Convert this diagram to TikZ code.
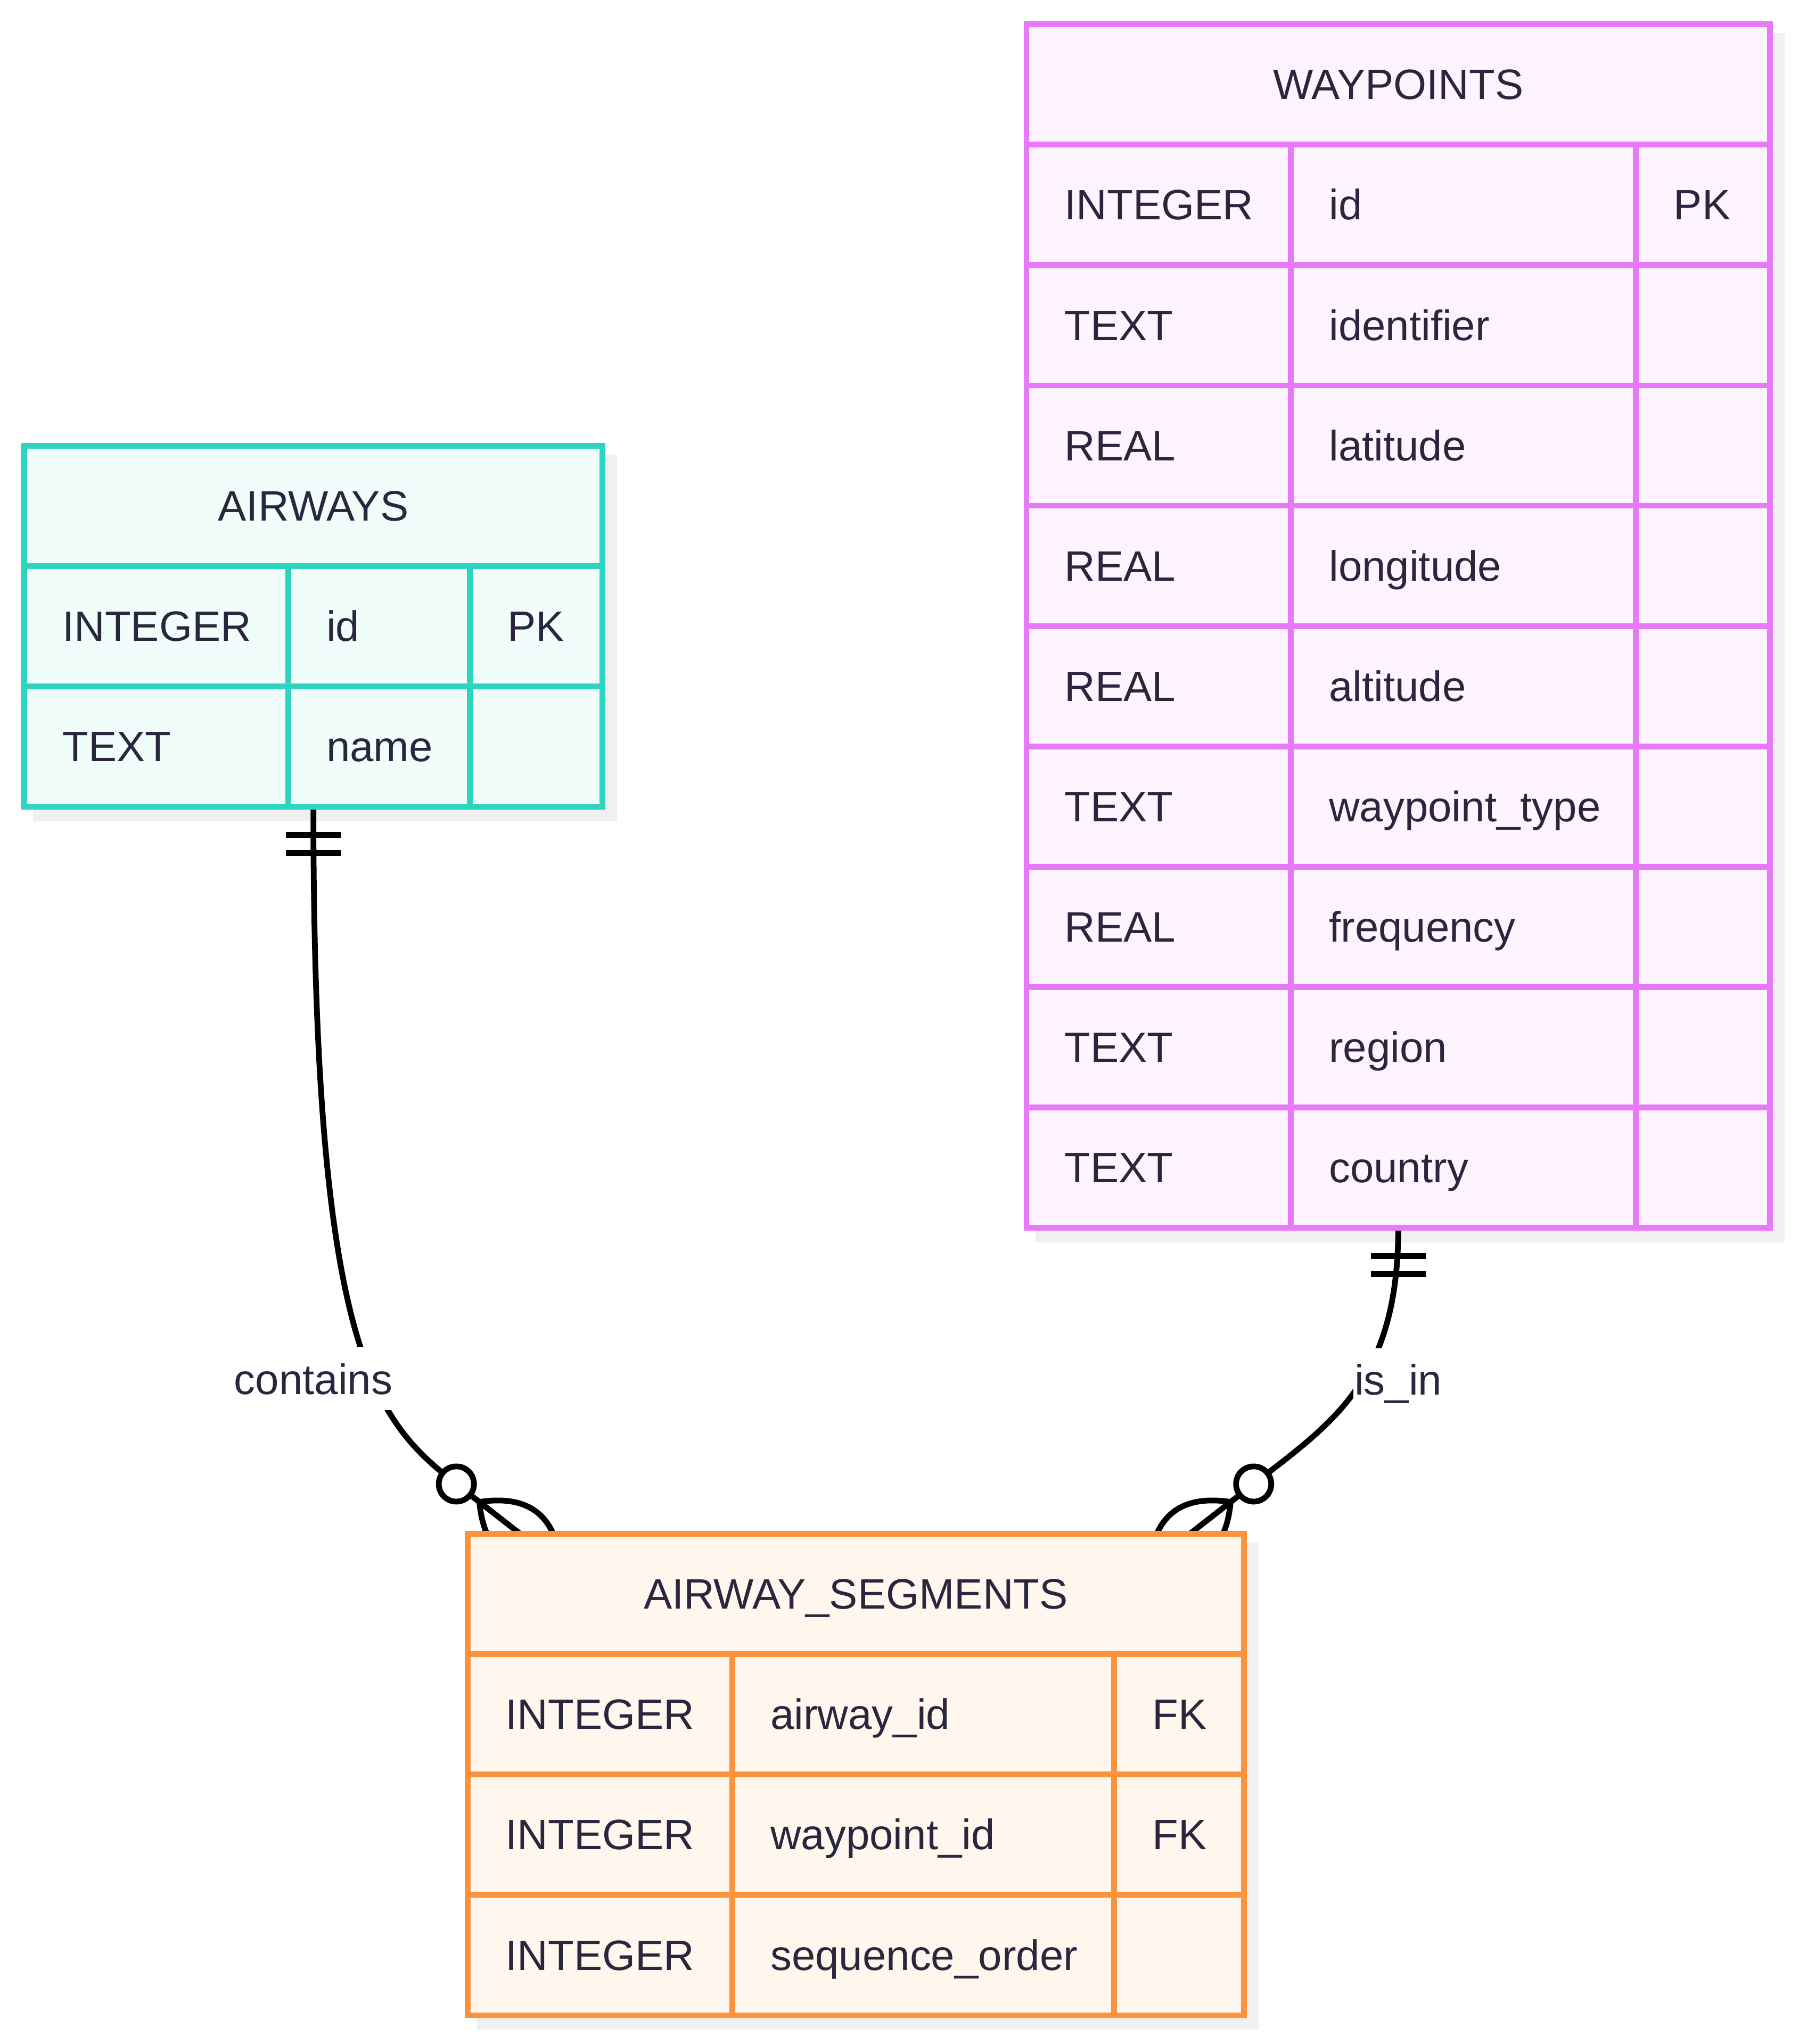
\documentclass[tikz,border=0pt]{standalone}
\usepackage{fontspec}
\setmainfont{Liberation Sans}
\usetikzlibrary{calc}
\definecolor{airStroke}{HTML}{2DD4BF}
\definecolor{airFill}{HTML}{F0FDFA}
\definecolor{wptStroke}{HTML}{E879F9}
\definecolor{wptFill}{HTML}{FDF4FF}
\definecolor{segStroke}{HTML}{FB923C}
\definecolor{segFill}{HTML}{FFF7ED}
\definecolor{shadowGray}{HTML}{F0F0F0}
\definecolor{inkText}{HTML}{29263E}
\pgfdeclarelayer{shadows}
\pgfdeclarelayer{links}
\pgfsetlayers{shadows,links,main}
\tikzset{
  tablebox/.style={line width=4.4pt, inner sep=0pt, outer sep=0pt, anchor=north west},
  tableshadow/.style={fill=shadowGray},
  gridline/.style={line width=4.4pt},
  celltext/.style={anchor=base west, inner sep=0pt, text=inkText, font=\fontsize{32.6}{38}\selectfont},
  titletext/.style={celltext, anchor=base},
  relline/.style={line width=4.4pt, black},
  rellabel/.style={fill=white, anchor=base, inner xsep=1pt, inner ysep=0pt, text height=36pt, text depth=12pt, text=inkText, font=\fontsize{32.6}{38}\selectfont},
}
\begin{document}
\begin{tikzpicture}[x=1pt,y=-1pt]
	\useasboundingbox (0,0) rectangle (1380,1568.6);
	% AIRWAYS table
	\node[tablebox, draw=airStroke, fill=airFill, minimum width=443.5pt, minimum height=277.1pt] (airways) at (18.7,342.1) {};
	\node[titletext] (airwaysTitle) at (240.4,399.8) {AIRWAYS};
	\foreach \ty/\fd [count=\i] in {INTEGER/id, TEXT/name}{
		\draw[gridline, airStroke] (18.7,342.1+92.37*\i) -- ++(443.5,0);
		\node[celltext] (airwaysType\i) at (47.7,399.8+92.37*\i) {\ty};
		\node[celltext] (airwaysField\i) at (250.3,399.8+92.37*\i) {\fd};
	}
	\draw[gridline, airStroke] (221.3,434.5) -- (221.3,619.2) (360.4,434.5) -- (360.4,619.2);
	\node[celltext] (airwaysKey1) at (389.4,492.2) {PK};
	% WAYPOINTS table
	\node[tablebox, draw=wptStroke, fill=wptFill, minimum width=570.4pt, minimum height=923.7pt] (waypoints) at (787.6,18.6) {};
	\node[titletext] (waypointsTitle) at (1072.8,76.3) {WAYPOINTS};
	\foreach \ty/\fd [count=\i] in {INTEGER/id, TEXT/identifier, REAL/latitude, REAL/longitude, REAL/altitude, TEXT/waypoint\_type, REAL/frequency, TEXT/region, TEXT/country}{
		\draw[gridline, wptStroke] (787.6,18.6+92.37*\i) -- ++(570.4,0);
		\node[celltext] (waypointsType\i) at (816.6,76.3+92.37*\i) {\ty};
		\node[celltext] (waypointsField\i) at (1019.5,76.3+92.37*\i) {\fd};
	}
	\draw[gridline, wptStroke] (990.5,111) -- (990.5,942.3) (1255,111) -- (1255,942.3);
	\node[celltext] (waypointsKey1) at (1284,168.7) {PK};
	% AIRWAY_SEGMENTS table
	\node[tablebox, draw=segStroke, fill=segFill, minimum width=595.8pt, minimum height=369.5pt] (segments) at (358.7,1177) {};
	\node[titletext] (segmentsTitle) at (656.6,1234.7) {AIRWAY\_SEGMENTS};
	\foreach \ty/\fd [count=\i] in {INTEGER/airway\_id, INTEGER/waypoint\_id, INTEGER/sequence\_order}{
		\draw[gridline, segStroke] (358.7,1177+92.37*\i) -- ++(595.8,0);
		\node[celltext] (segmentsType\i) at (387.7,1234.7+92.37*\i) {\ty};
		\node[celltext] (segmentsField\i) at (591,1234.7+92.37*\i) {\fd};
	}
	\draw[gridline, segStroke] (562,1269.4) -- (562,1546.5) (854.9,1269.4) -- (854.9,1546.5);
	\node[celltext] (segmentsKey1) at (883.9,1327.1) {FK};
	\node[celltext] (segmentsKey2) at (883.9,1419.4) {FK};
	% shadows under the tables
	\begin{pgfonlayer}{shadows}
		\fill[white] (0,0) rectangle (1380,1568.6);
		\fill[tableshadow] ($(airways.north west)+(6.8,6.8)$) rectangle ($(airways.south east)+(11.2,11.2)$);
		\fill[tableshadow] ($(waypoints.north west)+(6.8,6.8)$) rectangle ($(waypoints.south east)+(11.2,11.2)$);
		\fill[tableshadow] ($(segments.north west)+(6.8,6.8)$) rectangle ($(segments.south east)+(11.2,11.2)$);
	\end{pgfonlayer}
	% relationships
	\begin{pgfonlayer}{links}
		\coordinate (e1) at ($(segments.north west)+(40.3,0)$);
		\coordinate (e2) at ($(segments.north east)+(-41.5,0)$);
		\coordinate (c1) at ($(e1)+(218:62)$);
		\coordinate (c2) at ($(e2)+(-38:62)$);
		\draw[relline] (airways.south) .. controls (240.4,1040) and (288,1090) .. (c1) -- (e1); % contains
		\draw[relline] (waypoints.south) .. controls (1072.8,1060) and (1022,1092) .. (c2) -- (e2); % is_in
		\begin{scope}[shift={(airways.south)}]
			\draw[relline] (-21,21.5) -- (21,21.5) (-21,35.5) -- (21,35.5);
		\end{scope}
		\begin{scope}[shift={(waypoints.south)}]
			\draw[relline] (-21,21.5) -- (21,21.5) (-21,35.5) -- (21,35.5);
		\end{scope}
		\begin{scope}[shift={(e1)}, rotate=-38]
			\draw[relline] (-39.6,0) .. controls (-13.2,28) and (13.2,28) .. (39.6,0) .. controls (13.2,-28) and (-13.2,-28) .. (-39.6,0);
			\draw[relline, fill=white] (-62,0) circle[radius=13.5];
		\end{scope}
		\begin{scope}[shift={(e2)}, rotate=218]
			\draw[relline] (-39.6,0) .. controls (-13.2,28) and (13.2,28) .. (39.6,0) .. controls (13.2,-28) and (-13.2,-28) .. (-39.6,0);
			\draw[relline, fill=white] (-62,0) circle[radius=13.5];
		\end{scope}
		\node[rellabel] (containsLabel) at (240.4,1070) {contains};
		\node[rellabel] (isInLabel) at (1072.8,1070.5) {is\_in};
	\end{pgfonlayer}
\end{tikzpicture}
\end{document}
